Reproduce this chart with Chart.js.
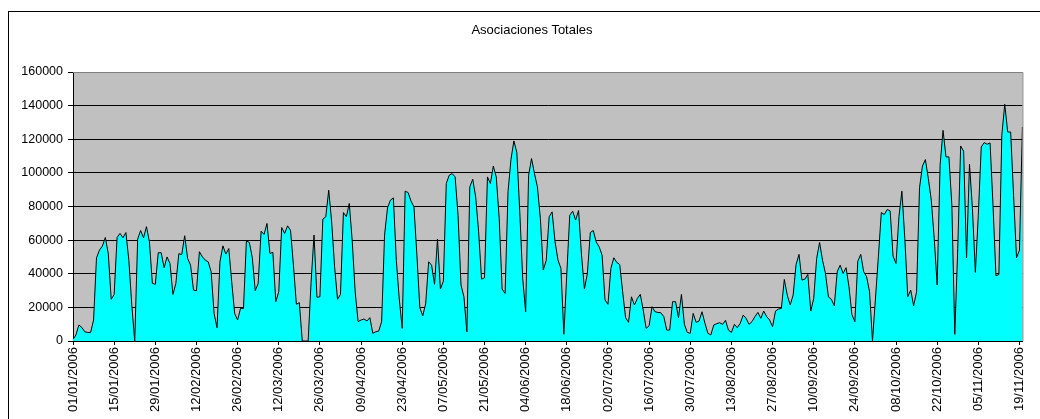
<!DOCTYPE html>
<html>
<head>
    <title>Asociaciones Totales</title>
    <script src="https://cdn.jsdelivr.net/npm/chart.js"></script>
    <style>
        body { margin: 0; overflow: hidden; background: #fff; }
        #wrap { position: relative; width: 1040px; height: 419px; overflow: hidden; }
        #frame { position: absolute; left: 8px; top: 11px; width: 1200px; height: 600px;
                 border-left: 1px solid #000; border-top: 1px solid #000; }
        #title { position: absolute; left: 432px; width: 200px; top: 22px; text-align: center;
                 font: 13px 'Liberation Sans', Arial, sans-serif; color: #000; line-height: 16px; }
        #chart { position: absolute; left: 0; top: 0; }
    </style>
</head>
<body>
<div id="wrap">
    <div id="frame"></div>
    <canvas id="chart" width="1040" height="419"></canvas>
    <div id="title">Asociaciones Totales</div>
</div>
<script>
    // Datos diarios, 01/01/2006 .. 20/11/2006
    const startDate = '2006-01-01';
    const tickLabels = ['01/01/2006', '15/01/2006', '29/01/2006', '12/02/2006', '26/02/2006',
        '12/03/2006', '26/03/2006', '09/04/2006', '23/04/2006', '07/05/2006', '21/05/2006',
        '04/06/2006', '18/06/2006', '02/07/2006', '16/07/2006', '30/07/2006', '13/08/2006',
        '27/08/2006', '10/09/2006', '24/09/2006', '08/10/2006', '22/10/2006', '05/11/2006',
        '19/11/2006'];
    const asociaciones = [
        1000, 3600, 9500, 8100, 5500, 5100, 5100, 12500, 49500, 54000,
        56500, 61600, 52000, 24800, 27700, 61600, 64000, 61400, 64500, 48000,
        21400, 0, 60600, 65700, 61400, 68000, 59000, 34300, 33700, 52500,
        52500, 43600, 50000, 46100, 27700, 34300, 51900, 51500, 62600, 49100,
        45100, 30300, 29900, 53100, 50100, 48100, 47100, 41200, 16400, 7900,
        47100, 56600, 51700, 55000, 35200, 16400, 12500, 19400, 19400, 59600,
        58600, 49500, 29900, 34300, 65300, 63400, 69900, 52100, 52700, 23400,
        29300, 67500, 64000, 68500, 65900, 45100, 21800, 22800, 0, 0,
        0, 35000, 63000, 26000, 26300, 72500, 73900, 89700, 70900, 44200,
        24800, 27700, 76400, 73900, 81800, 59400, 29300, 11500, 12500, 13100,
        11900, 13900, 4600, 5500, 5900, 11500, 63000, 79200, 83800, 85100,
        48000, 25000, 7500, 89100, 88300, 83200, 79800, 51100, 19800, 15000,
        22400, 47100, 45100, 33700, 60600, 30900, 35600, 93700, 98600, 99600,
        97600, 74800, 33300, 26300, 5500, 91700, 96200, 85700, 64900, 36800,
        37600, 97600, 93700, 104000, 97600, 72900, 30900, 28300, 88700, 108000,
        119000, 112100, 76800, 37200, 17400, 98600, 108500, 99600, 91700, 72900,
        42200, 48000, 73900, 76800, 59000, 48100, 43200, 4000, 40000, 74800,
        77200, 71900, 77600, 51100, 30900, 40200, 64500, 65700, 59000, 56000,
        51100, 24400, 21800, 43200, 49500, 46700, 45500, 29300, 13900, 11100,
        26300, 21400, 25300, 27700, 18400, 7500, 9100, 20400, 17400, 17000,
        16800, 14500, 6500, 6500, 23400, 23400, 13900, 27700, 9900, 5100,
        4600, 16400, 11100, 11900, 17400, 10500, 4600, 3600, 9500, 10300,
        10900, 9900, 12300, 6500, 5100, 9900, 7900, 10500, 15400, 13500,
        9900, 11500, 14500, 17000, 13500, 17800, 14500, 12500, 8500, 17800,
        19000, 19400, 36600, 27300, 21400, 27300, 45500, 51500, 36200, 36800,
        39600, 17800, 25300, 49100, 58600, 48100, 40200, 26300, 24800, 21000,
        41200, 45100, 40200, 43600, 32300, 15800, 11500, 47500, 51500, 41200,
        38200, 29300, 0, 25000, 50000, 76400, 75200, 78200, 77400, 50500,
        46100, 73900, 89100, 61000, 26300, 30300, 21000, 29300, 91100, 104100,
        107900, 96600, 83800, 61000, 33300, 104500, 125300, 109500, 109500, 80800,
        4000, 55000, 116000, 112900, 49500, 105100, 78800, 40800, 74800, 115400,
        118000, 117000, 117800, 80800, 38800, 39600, 122400, 140800, 124300, 124300,
        86700, 49500, 54000, 127300
    ];

    // etiquetas diarias dd/mm/yyyy
    const labels = [];
    const d0 = new Date(startDate + 'T12:00:00Z');
    for (let i = 0; i < asociaciones.length; i++) {
        const d = new Date(d0.getTime() + i * 86400000);
        const dd = String(d.getUTCDate()).padStart(2, '0');
        const mm = String(d.getUTCMonth() + 1).padStart(2, '0');
        labels.push(dd + '/' + mm + '/' + d.getUTCFullYear());
    }

    const fontFamily = "'Liberation Sans', Arial, sans-serif";

    const plotBg = {
        id: 'plotBg',
        beforeDraw(chart) {
            const a = chart.chartArea, c = chart.ctx;
            c.save();
            c.fillStyle = '#C0C0C0';
            c.fillRect(a.left, a.top, a.right - a.left, a.bottom - a.top);
            c.restore();
        },
        afterDraw(chart) {
            const a = chart.chartArea, c = chart.ctx;
            c.save();
            c.strokeStyle = '#808080';
            c.lineWidth = 1;
            c.beginPath();
            c.moveTo(a.left, a.top + 0.5);
            c.lineTo(a.right + 0.5, a.top + 0.5);
            c.lineTo(a.right + 0.5, a.bottom);
            c.stroke();
            c.restore();
        }
    };

    new Chart(document.getElementById('chart'), {
        type: 'line',
        data: {
            labels: labels,
            datasets: [{
                label: 'Asociaciones Totales',
                data: asociaciones,
                fill: 'origin',
                backgroundColor: '#00FFFF',
                borderColor: '#000000',
                borderWidth: 1,
                pointRadius: 0,
                tension: 0
            }]
        },
        options: {
            responsive: false,
            devicePixelRatio: 1,
            animation: false,
            layout: { padding: { left: 10, right: 7, top: 72, bottom: 0 } },
            plugins: {
                legend: { display: false },
                tooltip: { enabled: false },
                title: { display: false }
            },
            scales: {
                x: {
                    type: 'category',
                    offset: false,
                    afterFit: s => { s.height = 78; },
                    border: { color: '#000', width: 1 },
                    grid: {
                        drawOnChartArea: false,
                        tickLength: 4,
                        tickColor: ctx => tickLabels.includes(labels[ctx.index]) ? '#000' : 'rgba(0,0,0,0)'
                    },
                    ticks: {
                        autoSkip: false,
                        maxRotation: 90,
                        minRotation: 90,
                        padding: 2,
                        color: '#000',
                        font: { family: fontFamily, size: 13 },
                        callback: (v, i) => tickLabels.includes(labels[i]) ? labels[i] : ''
                    }
                },
                y: {
                    min: 0,
                    max: 160000,
                    afterFit: s => { s.width = 63; },
                    border: { color: '#000', width: 1 },
                    grid: {
                        color: ctx => ctx.tick && ctx.tick.value === 160000 ? '#808080' : '#000',
                        lineWidth: 1,
                        tickLength: 5,
                        tickColor: '#000'
                    },
                    ticks: {
                        stepSize: 20000,
                        padding: 5,
                        color: '#000',
                        font: { family: fontFamily, size: 12.5 },
                        callback: v => String(v)
                    }
                }
            }
        },
        plugins: [plotBg]
    });
</script>
</body>
</html>
